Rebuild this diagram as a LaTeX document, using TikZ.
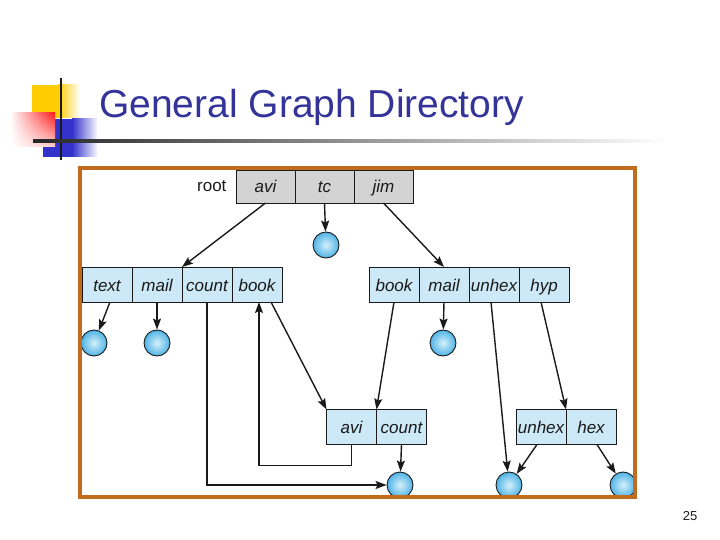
\documentclass[tikz,border=0pt]{standalone}
\usepackage{fontspec}
\setmainfont{Liberation Sans}
\usepackage{tikz}
\usetikzlibrary{arrows.meta,positioning,calc,shadings}
\definecolor{Ink}{HTML}{1A1A1A}
\definecolor{TitleBlue}{HTML}{333399}
\definecolor{Frame}{HTML}{C06B1E}
\definecolor{CellBlue}{HTML}{CDE8F6}
\definecolor{CellGray}{HTML}{D3D3D3}
\definecolor{BallBlue}{HTML}{4FB3E6}
\definecolor{BallLight}{HTML}{D6F0FB}
\definecolor{DecoYellow}{HTML}{FFCC00}
\definecolor{DecoBlue}{HTML}{3333CC}
\definecolor{DecoRed}{HTML}{FF1A1A}
\tikzset{
  cell/.style={draw=Ink,line width=0.8pt,outer sep=0pt,inner xsep=1pt,minimum height=35pt,minimum width=50pt,
    text height=15pt,text depth=2pt,font=\fontsize{17}{19}\selectfont\itshape,text=Ink},
  cellblue/.style={cell,fill=CellBlue},
  cellgray/.style={cell,fill=CellGray,minimum width=59pt,minimum height=33pt},
  fileball/.style={circle,draw=Ink,line width=0.9pt,minimum size=26pt,inner sep=0pt,inner color=BallLight,outer color=BallBlue},
  arrow/.style={-{Stealth[length=11pt,width=8pt,inset=2pt]},line width=1.4pt,draw=Ink}
}
\begin{document}
\begin{tikzpicture}[x=1pt,y=-1pt]
  \useasboundingbox (0,0) rectangle (720,540);

  % title bar decoration
  \fill[DecoYellow] (32,85) rectangle (58,118);
  \shade[left color=DecoYellow,right color=white] (58,85) rectangle (80,118);
  \fill[DecoBlue] (43,119) rectangle (72,157);
  \shade[left color=DecoBlue,right color=white] (72,119) rectangle (98,157);
  \shade[upper left=white,upper right=DecoRed,lower left=white,lower right=DecoRed!20] (10,113) rectangle (55,147);
  \fill[Ink] (60,78) rectangle (62,160);
  \shade[left color=black!85,right color=white] (33,140) rectangle (668,142.5);
  \node[anchor=base west,text=TitleBlue,font=\fontsize{39}{42}\selectfont,inner sep=0pt] (title) at (99,118) {General Graph Directory};

  % root directory
  \node[cellgray] (ravi) at (265.5,186.5) {avi};
  \node[cellgray,right=0pt of ravi] (rtc) {tc};
  \node[cellgray,right=0pt of rtc] (rjim) {jim};
  \node[left=6pt of ravi,font=\fontsize{17}{19}\selectfont,text=Ink] (root) {root};

  % second level
  \node[cellblue] (atext) at (107,284.5) {text};
  \node[cellblue,right=0pt of atext] (amail) {mail};
  \node[cellblue,right=0pt of amail] (acount) {count};
  \node[cellblue,right=0pt of acount] (abook) {book};

  \node[cellblue] (jbook) at (394,284.5) {book};
  \node[cellblue,right=0pt of jbook] (jmail) {mail};
  \node[cellblue,right=0pt of jmail] (junhex) {unhex};
  \node[cellblue,right=0pt of junhex] (jhyp) {hyp};

  % third level
  \node[cellblue] (savi) at (351.5,427) {avi};
  \node[cellblue,right=0pt of savi] (scount) {count};

  \node[cellblue] (hunhex) at (541,427) {unhex};
  \node[cellblue,right=0pt of hunhex] (hhex) {hex};

  % files
  \node[fileball] (ftc) at (326,245) {};
  \node[fileball] (ftext) at (94,343) {};
  \node[fileball] (fmail) at (157,343) {};
  \node[fileball] (fjmail) at (443,343) {};
  \node[fileball] (fcount) at (400,485) {};
  \node[fileball] (funhex) at (509,485) {};
  \node[fileball] (fhex) at (623,485) {};

  % links
  \draw[arrow] (ravi.south) -- (amail.north east);
  \draw[arrow] (rtc.south) -- (ftc);
  \draw[arrow] (rjim.south) -- (jmail.north);
  \draw[arrow] ([xshift=3pt]atext.south) -- (ftext);
  \draw[arrow] (amail.south) -- (fmail);
  \draw[arrow] (acount.south) |- (fcount.west);
  \draw[arrow] (savi.south) -- ++(0,21) -| ([xshift=2pt]abook.south);
  \draw[arrow] ([xshift=14pt]abook.south) -- (savi.north west);
  \draw[arrow] (jbook.south) -- (savi.north east);
  \draw[arrow] (jmail.south) -- (fjmail);
  \draw[arrow] ([xshift=-3pt]junhex.south) -- (funhex);
  \draw[arrow] ([xshift=-3pt]jhyp.south) -- (hunhex.north east);
  \draw[arrow] ([xshift=-4pt]hunhex.south) -- (funhex);
  \draw[arrow] ([xshift=6pt]hhex.south) -- (fhex);
  \draw[arrow] (scount.south) -- (fcount);

  % frame
  \draw[Frame,line width=4pt] (80,168) rectangle (635,497);

  \node[font=\fontsize{13}{15}\selectfont,text=Ink] (pagenum) at (690,516) {25};
\end{tikzpicture}
\end{document}
